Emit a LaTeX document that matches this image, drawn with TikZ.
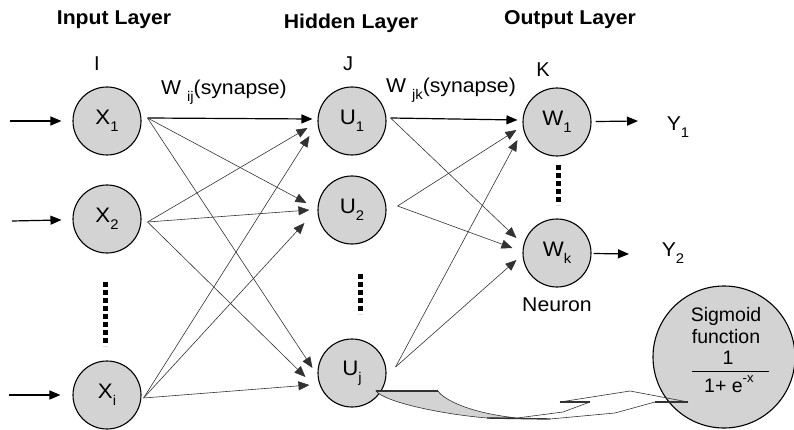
\documentclass[tikz,border=0pt]{standalone}
\usepackage{fontspec}
\setmainfont{Liberation Sans}
\usetikzlibrary{arrows.meta,calc}
\definecolor{nodefill}{RGB}{211,211,211}
\definecolor{linegray}{RGB}{50,50,50}
\newcommand\lsub[1]{\raisebox{-0.35em}{\fontsize{14}{14}\selectfont #1}}
\newcommand\lsup[1]{\raisebox{0.5em}{\fontsize{13}{13}\selectfont #1}}
\newcommand\hs[1]{\scalebox{1.06}[1]{#1}}
\begin{document}
\begin{tikzpicture}[x=1pt,y=-1pt,
  neuron/.style={circle,draw=black,line width=1.1pt,fill=nodefill,minimum size=68pt,inner sep=0pt,font=\fontsize{21}{21}\selectfont},
  title/.style={font=\bfseries\fontsize{20}{20}\selectfont,inner sep=0pt},
  lbl/.style={font=\fontsize{20}{20}\selectfont,inner sep=0pt},
  sigtxt/.style={font=\fontsize{19.5}{19.5}\selectfont,inner sep=0pt},
  syn/.style={-{Triangle[length=11pt,width=9pt]},line width=0.6pt,draw=linegray},
  synmain/.style={-{Triangle[length=11pt,width=9pt]},line width=1.2pt,draw=black},
  ioarrow/.style={-{Triangle[length=11pt,width=9pt]},line width=1.2pt},
  dotline/.style={line width=5pt,dash pattern=on 5pt off 3pt},
  ribbonedge/.style={line width=0.6pt,draw=linegray},
  ribbonbar/.style={line width=1.4pt,draw=linegray},
]
\path[use as bounding box] (0,0) rectangle (794,430);
\clip (0,0) rectangle (794,430);

% titles
\node[title] (tin) at (114,20) {\hs{Input Layer}};
\node[title] (thid) at (351,23) {\hs{Hidden Layer}};
\node[title] (tout) at (570,20) {\hs{Output Layer}};
\node[lbl] (li) at (97,64) {I};
\node[lbl] (lj) at (348,64) {J};
\node[lbl] (lk) at (543,70) {K};
\node[lbl] (wij) at (224,92) {\hs{W \lsub{ij}(synapse)}};
\node[lbl] (wjk) at (451,90) {\hs{W \lsub{jk}(synapse)}};

% neurons
\node[neuron] (X1) at (107,121) {\hs{X\lsub{1}}};
\node[neuron] (X2) at (107,219) {\hs{X\lsub{2}}};
\node[neuron] (Xi) at (107,395) {\hs{X\lsub{i}}};
\node[neuron] (U1) at (352,121) {\hs{U\lsub{1}}};
\node[neuron] (U2) at (352,210) {\hs{U\lsub{2}}};
\node[neuron] (Uj) at (352,373) {\hs{U\lsub{j}}};
\node[neuron] (W1) at (557,122) {\hs{W\lsub{1}}};
\node[neuron] (Wk) at (557,253) {\hs{W\lsub{k}}};

\node[lbl] (Y1) at (678,127) {\hs{Y\lsub{1}}};
\node[lbl] (Y2) at (673,253) {\hs{Y\lsub{2}}};
\node[lbl] (neu) at (557,305) {\hs{Neuron}};

% dotted continuation marks
\draw[dotline] (105,282) -- (105,346);
\draw[dotline] (360,274) -- (360,314);
\draw[dotline] (558,165) -- (558,205);

% input arrows
\coordinate (in1) at (10,121);
\coordinate (in2) at (12,221);
\coordinate (in3) at (9,395);
\draw[ioarrow,shorten >=11pt] (in1) -- (X1);
\draw[ioarrow,shorten >=11pt] (in2) -- (X2);
\draw[ioarrow,shorten >=12pt] (in3) -- (Xi);

% output arrows
\coordinate (out1) at (638,121);
\coordinate (out2) at (629,254);
\draw[ioarrow,shorten <=4pt] (W1) -- (out1);
\draw[ioarrow,shorten <=2pt] (Wk) -- (out2);

% start hubs
\coordinate (x1o) at ($(X1.east)+(6,-3)$);
\coordinate (x2o) at ($(X2.east)+(6,3)$);
\coordinate (xio) at ($(Xi.east)+(2,3)$);
\coordinate (u1o) at ($(U1.east)+(4,-3)$);
\coordinate (u2o) at ($(U2.east)+(11,-4)$);
\coordinate (ujo) at ($(Uj.east)+(9,-6)$);

% input -> hidden
\draw[synmain] (x1o) -- ($(U1.west)+(-5,-2)$);
\draw[syn] (x1o) -- ($(U2.west)+(-11,-7)$);
\draw[syn] (x1o) -- ($(Uj.west)+(-5,-5)$);
\draw[syn] (x2o) -- ($(U1.west)+(-10,7)$);
\draw[syn] (x2o) -- ($(U2.west)+(-8,0)$);
\draw[syn] (x2o) -- ($(Uj.west)+(-12,4)$);
\draw[syn] (xio) -- ($(U1.west)+(-8,15)$);
\draw[syn] (xio) -- ($(U2.west)+(-13,13)$);
\draw[syn] (xio) -- ($(Uj.west)+(-8,12)$);

% hidden -> output
\draw[synmain] (u1o) -- ($(W1.west)+(-5,-2)$);
\draw[syn] (u2o) -- ($(W1.west)+(-6,8)$);
\draw[syn] (ujo) -- ($(W1.west)+(-5,18)$);
\draw[syn] (u1o) -- ($(Wk.west)+(-6,-15)$);
\draw[syn] (u2o) -- ($(Wk.west)+(-10,-5)$);
\draw[syn] (ujo) -- ($(Wk.west)+(-6,7)$);

% sigmoid bubble
\node[neuron,minimum size=142pt] (sig) at (724,357) {};
\node[sigtxt] (s1) at (726,316) {Sigmoid};
\node[sigtxt] (s2) at (726,337) {function};
\node[sigtxt] (s3) at (728,358) {1};
\draw[line width=1pt] (692,371) -- (769,371);
\node[sigtxt,anchor=west] (s4) at (704,384) {1+ e\lsup{-x}};

% callout ribbon
\filldraw[fill=nodefill,ribbonedge] (376,391) -- (438,391) .. controls (444,400) and (470,413) .. (517,418) -- (487,418) .. controls (440,414) and (385,402) .. (376,391) -- cycle;
\draw[ribbonbar] (376,391) -- (438,391);
\draw[ribbonbar] (487,418) -- (550,419);
\draw[ribbonbar] (560,402) -- (590,402);
\draw[ribbonbar] (655,402) -- (688,402);
\draw[ribbonedge] (517,418) -- (563,412) -- (590,402);
\draw[ribbonedge] (550,419) -- (615,413) -- (655,402);
\draw[ribbonedge] (560,402) -- (630,391) -- (667,398) -- (688,402);
\end{tikzpicture}
\end{document}
